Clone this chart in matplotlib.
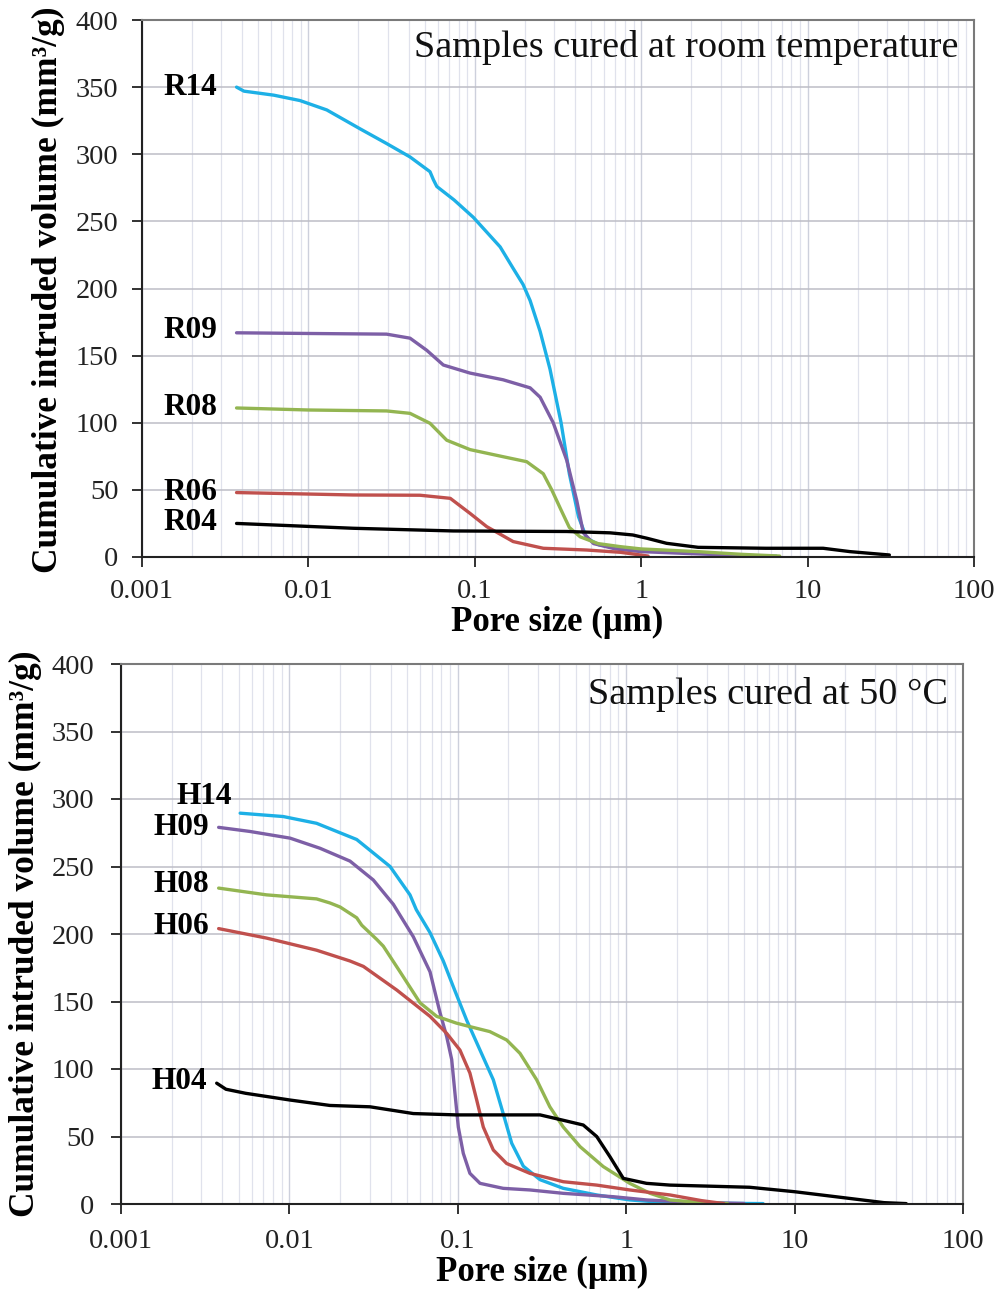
import matplotlib
matplotlib.use("Agg")
import matplotlib.pyplot as plt
from matplotlib.ticker import FixedLocator, LogLocator, NullFormatter

# ---------------- data ----------------
x_ticks = [0.001, 0.01, 0.1, 1, 10, 100]
x_tick_labels = ["0.001", "0.01", "0.1", "1", "10", "100"]
y_ticks = [0, 50, 100, 150, 200, 250, 300, 350, 400]

# Top panel: room temperature
r14_x = [0.0037, 0.0041, 0.0062, 0.0089, 0.0129, 0.0204, 0.0295, 0.0408, 0.0538, 0.0564, 0.0591,
         0.075, 0.098, 0.142, 0.17, 0.195, 0.215, 0.247, 0.283, 0.33, 0.37, 0.42, 0.47, 0.56,
         0.75, 1.0, 1.5, 2.2, 3.5, 6.5]
r14_v = [350, 347, 344, 340, 333, 319, 308, 298, 287, 281, 276,
         266, 253, 231, 215, 203, 191, 168, 140, 100, 62, 30, 14, 9,
         6.5, 5, 3.8, 2.8, 1.5, 0.5]
r09_x = [0.0037, 0.01, 0.0295, 0.0408, 0.0514, 0.0647, 0.0936, 0.148, 0.215, 0.247, 0.296,
         0.357, 0.41, 0.449, 0.517, 0.7, 1.0, 2.0, 4.0, 6.5]
r09_v = [167, 166.5, 166, 163, 154, 143, 137, 132, 126, 119, 100,
         72, 42, 18, 10, 6, 4, 2.5, 1.2, 0.5]
r08_x = [0.0037, 0.01, 0.0295, 0.0408, 0.0538, 0.0678, 0.0936, 0.148, 0.205, 0.258, 0.29,
         0.33, 0.37, 0.43, 0.55, 0.75, 1.0, 2.2, 4.0, 6.8]
r08_v = [111, 109.5, 108.8, 107, 99.6, 87, 80, 74.7, 71, 62, 50,
         35, 22, 15, 10, 7.7, 6, 4, 2, 0.7]
r06_x = [0.0037, 0.0186, 0.0469, 0.0712, 0.0936, 0.118, 0.142, 0.17, 0.258, 0.47, 0.75, 0.9, 1.1]
r06_v = [48, 46.2, 46, 43.7, 32.5, 22.6, 17, 11.5, 6.5, 5.2, 3.5, 2.2, 0.7]
r04_x = [0.0037, 0.0186, 0.0743, 0.357, 0.65, 0.89, 1.08, 1.42, 2.2, 5.6, 8.9, 12.4, 18, 31]
r04_v = [25, 21.4, 19.4, 19, 18, 16.4, 14, 10.2, 7.2, 6.5, 6.5, 6.5, 4, 1.5]

# Bottom panel: 50 °C
h14_x = [0.0051, 0.0092, 0.0145, 0.0251, 0.0396, 0.052, 0.0567, 0.0684, 0.082, 0.094, 0.113,
         0.1355, 0.1625, 0.186, 0.209, 0.245, 0.308, 0.423, 0.668, 1.05, 1.66, 3.0, 6.5]
h14_v = [289.5, 287, 282, 270, 250, 229, 218, 201, 180, 161, 136,
         114, 92, 67, 45, 28, 18, 11.6, 6.7, 3, 1.2, 0.6, 0.3]
h09_x = [0.0038, 0.0058, 0.0101, 0.0152, 0.0229, 0.0315, 0.0414, 0.0544, 0.0684, 0.0783, 0.0859,
         0.092, 0.0962, 0.1007, 0.1078, 0.118, 0.1355, 0.186, 0.268, 0.423, 0.838, 1.32, 2.5, 5.0]
h09_v = [279, 276, 271, 263.5, 254, 240, 222, 198, 172, 142, 124,
         107, 82, 57, 37.5, 22.7, 15.3, 11.6, 10.4, 7.9, 5.4, 3, 1.2, 0.4]
h08_x = [0.0038, 0.0073, 0.0145, 0.0174, 0.02, 0.0251, 0.0269, 0.033, 0.0361, 0.0454, 0.0597,
         0.0749, 0.098, 0.118, 0.155, 0.195, 0.234, 0.294, 0.352, 0.423, 0.532, 0.731, 1.05,
         1.38, 1.82, 2.8, 4.0]
h08_v = [234, 229, 226, 223, 220, 212, 206.5, 196, 191, 172, 149,
         139, 134, 131.4, 127.7, 121.5, 111.6, 92, 72, 57, 42.5, 27.7, 15.3,
         8, 3, 1, 0.3]
h06_x = [0.0038, 0.0073, 0.0145, 0.0229, 0.0275, 0.0434, 0.0684, 0.0859, 0.103, 0.118, 0.1295,
         0.1417, 0.1625, 0.195, 0.268, 0.423, 0.668, 1.05, 1.82, 2.8, 3.8]
h06_v = [204, 197, 188, 180, 176, 158.5, 139, 126.4, 114, 97, 77,
         57, 40, 30, 22.7, 16.5, 14, 10.4, 6.7, 2.5, 0.3]
h04_x = [0.0037, 0.0042, 0.0055, 0.0101, 0.0174, 0.0301, 0.0544, 0.098, 0.17, 0.308, 0.423,
         0.556, 0.668, 0.801, 0.961, 1.32, 1.82, 5.4, 10, 21, 34, 46]
h04_v = [89.5, 85, 82, 77, 73, 72, 67, 66, 66, 66, 62,
         58.5, 50, 35, 19, 15.3, 14, 12.4, 9.1, 4.2, 1, 0.3]

top_names = ["R14", "R09", "R08", "R06", "R04"]
bot_names = ["H14", "H09", "H08", "H06", "H04"]
top_title = "Samples cured at room temperature"
bot_title = "Samples cured at 50 °C"
x_label = "Pore size (µm)"
y_label = "Cumulative intruded volume (mm³/g)"

# ---------------- style ----------------
colors = {"14": "#1DB0E6", "09": "#7D5FA6", "08": "#93B551", "06": "#C0504D", "04": "#000000"}
# label offsets (pixels) relative to first point of each curve
top_off = {"R14": (-19, 0), "R09": (-19, 2), "R08": (-19, 0), "R06": (-19, 0), "R04": (-19, 1)}
bot_off = {"H14": (-8, 17), "H09": (-10, 0), "H08": (-10, 4), "H06": (-10, 2), "H04": (-10, 2)}

plt.rcParams["font.family"] = ["Liberation Serif", "DejaVu Serif"]

W, H = 1000, 1295
fig = plt.figure(figsize=(W / 100, H / 100), dpi=100)


def px_rect(l, t, r, b):
    return [l / W, 1 - b / H, (r - l) / W, (b - t) / H]


def style_axes(ax, ylab_xy, xlab_xy, tick_pad_y, tick_pad_x):
    ax.set_xscale("log")
    ax.set_xlim(0.001, 100)
    ax.set_ylim(0, 400)
    ax.xaxis.set_major_locator(FixedLocator(x_ticks))
    ax.set_xticklabels(x_tick_labels)
    ax.xaxis.set_minor_locator(LogLocator(base=10, subs=range(2, 10), numticks=20))
    ax.xaxis.set_minor_formatter(NullFormatter())
    ax.set_yticks(y_ticks)
    ax.grid(True, which="major", axis="y", color="#BDBDC6", lw=1.1)
    ax.grid(True, which="major", axis="x", color="#CDD0DC", lw=1.0)
    ax.grid(True, which="minor", axis="x", color="#E0E2EC", lw=0.9)
    ax.set_axisbelow(True)
    ax.tick_params(axis="both", which="major", direction="out", length=7, width=1.3,
                   labelsize=20.5, colors="#222222")
    ax.tick_params(axis="y", pad=tick_pad_y)
    ax.tick_params(axis="x", pad=tick_pad_x)
    ax.tick_params(axis="x", which="minor", length=0)
    for s in ("left", "bottom"):
        ax.spines[s].set_color("#222222")
        ax.spines[s].set_linewidth(1.5)
    for s in ("top", "right"):
        ax.spines[s].set_color("#7A7A7A")
        ax.spines[s].set_linewidth(1.5)
    ax.set_xlabel(x_label, fontsize=25, fontweight="bold", va="center")
    ax.set_ylabel(y_label, fontsize=25.5, fontweight="bold", va="center")
    ax.xaxis.set_label_coords(*xlab_xy)
    ax.yaxis.set_label_coords(*ylab_xy)


def draw(ax, names, xs, vs, offs):
    for name, x, v in zip(names, xs, vs):
        c = colors[name[1:]]
        ax.plot(x, v, color=c, lw=2.4, solid_capstyle="round", solid_joinstyle="round")
        dx, dy = offs[name]
        ax.annotate(name, xy=(x[0], v[0]), xytext=(dx * 0.72, dy * 0.72),
                    textcoords="offset points", ha="right", va="center",
                    fontsize=22.5, fontweight="bold", color="black")


ax1 = fig.add_axes(px_rect(142, 20, 974, 557))
style_axes(ax1, (-0.113, 0.497), (0.499, -0.121), 10, 9)
draw(ax1, top_names, [r14_x, r09_x, r08_x, r06_x, r04_x],
     [r14_v, r09_v, r08_v, r06_v, r04_v], top_off)
ax1.text(0.981, 0.948, top_title, transform=ax1.transAxes, ha="right", va="center",
         fontsize=27.5, color="#111111")

ax2 = fig.add_axes(px_rect(121, 664, 963, 1204))
style_axes(ax2, (-0.114, 0.5), (0.5, -0.126), 12, 11)
draw(ax2, bot_names, [h14_x, h09_x, h08_x, h06_x, h04_x],
     [h14_v, h09_v, h08_v, h06_v, h04_v], bot_off)
ax2.text(0.982, 0.943, bot_title, transform=ax2.transAxes, ha="right", va="center",
         fontsize=27.5, color="#111111")

fig.savefig("out.png", dpi=100, facecolor="white")
